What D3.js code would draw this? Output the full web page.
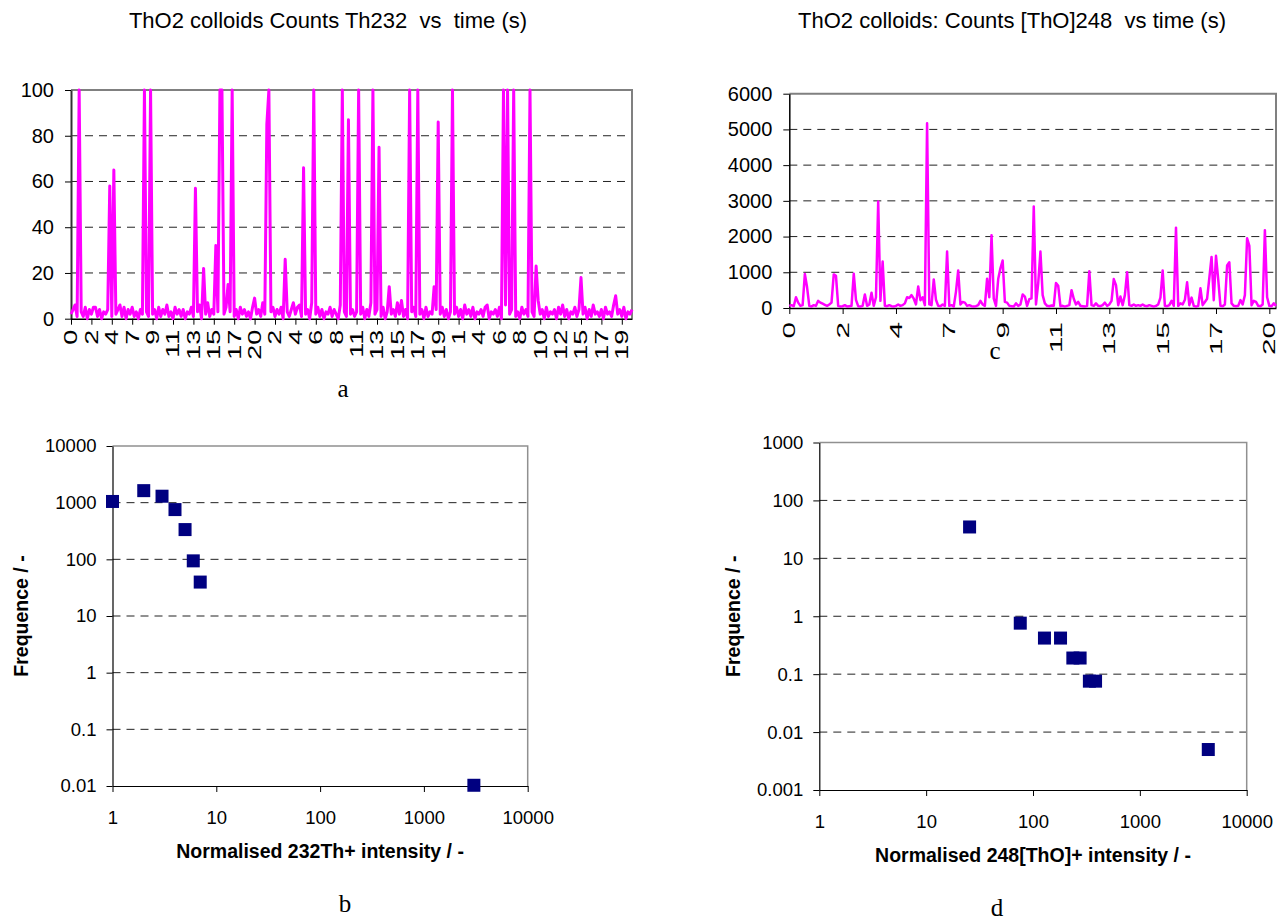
<!DOCTYPE html>
<html><head><meta charset="utf-8">
<script src="https://cdnjs.cloudflare.com/ajax/libs/d3/7.8.5/d3.min.js"></script>
<style>body{margin:0;background:#fff}</style>
</head><body><svg id="chart" width="1278" height="922"></svg>
<script>
// ---------- DATA ----------
const aTitle = "ThO2 colloids Counts Th232  vs  time (s)";
const cTitle = "ThO2 colloids: Counts [ThO]248  vs time (s)";
const aTickLabels = ["0","2","4","7","9","11","13","15","17","20","2","4","6","8","11","13","15","17","19","1","4","6","8","10","12","15","17","19"];
const aCounts = [
 2,4,6,1,100,3,1,5,0,4,2,5,5,1,4,0,3,2,4,58,
 1,65,2,4,6,1,5,0,4,2,5,1,3,0,4,2,100,3,1,100,
 2,4,0,5,1,4,2,6,1,3,0,5,2,4,1,4,0,3,2,5,
 1,57,3,6,0,22,2,7,1,4,2,32,3,100,100,2,5,15,3,100,
 1,4,0,5,2,4,1,3,0,5,9,2,4,1,7,2,85,100,3,5,
 1,4,2,5,0,26,3,1,4,7,2,5,6,1,66,2,4,0,7,100,
 2,5,1,4,0,3,2,5,1,4,2,0,6,100,3,1,87,2,4,1,
 3,100,2,5,0,4,1,7,100,2,4,75,1,5,0,3,14,2,4,1,
 7,2,8,1,4,0,100,3,5,1,100,2,4,0,5,1,3,2,14,4,
 86,2,5,1,4,0,3,100,2,5,1,4,0,6,2,4,1,5,0,3,
 2,4,1,5,6,0,3,2,4,1,5,0,100,6,100,2,4,100,1,3,
 0,5,2,4,1,100,3,1,23,8,2,4,0,5,1,3,2,4,0,5,
 2,6,1,4,0,3,2,5,1,4,18,2,5,0,4,1,6,2,3,1,
 4,0,5,2,3,1,6,10,2,4,1,5,0,3,2,4
];
const aYTicks = [0,20,40,60,80,100];

const cTickLabels = ["0","2","4","7","9","11","13","15","17","20"];
const cCounts = [
 60,80,50,300,150,60,80,950,580,60,40,80,60,200,150,120,90,60,100,150,
 940,900,60,40,50,80,40,50,60,960,230,50,40,60,380,60,100,430,60,300,
 2980,200,1300,60,50,80,50,40,60,100,60,80,130,300,280,360,260,100,600,220,
 300,80,5170,100,80,800,230,60,50,100,60,1580,60,80,40,460,1050,100,170,150,
 60,80,50,40,50,80,200,100,60,820,300,2040,260,60,810,1110,1330,170,150,60,
 50,40,130,60,100,380,320,60,250,270,2840,100,690,1580,360,130,60,50,70,60,
 700,620,50,60,40,60,80,500,260,100,170,60,50,40,60,1030,80,60,130,60,
 50,80,150,60,100,200,810,640,80,320,80,360,1000,80,60,100,60,80,60,100,
 60,50,80,60,40,60,100,290,1050,60,50,80,200,60,2250,60,130,100,230,720,
 80,290,60,40,60,550,80,170,260,840,1430,220,1460,800,60,50,100,1190,1280,130,
 60,50,60,220,100,360,1950,1740,80,200,170,60,50,100,2180,300,60,50,130,60
];
const cYTicks = [0,1000,2000,3000,4000,5000,6000];

const bIntensity = [1,2,3,4,5,6,7,3030];
const bFrequence = [1050,1630,1300,755,335,94,39.7,0.0103];
const bYTicks = [0.01,0.1,1,10,100,1000,10000];

const dIntensity = [25.5,76,128,181,236,276,337,385,4370];
const dFrequence = [34.8,0.76,0.42,0.42,0.19,0.19,0.0757,0.0757,0.005];
const dYTicks = [0.001,0.01,0.1,1,10,100,1000];

const logXTicks = [1,10,100,1000,10000];
const bXTitle = "Normalised 232Th+ intensity / -";
const dXTitle = "Normalised 248[ThO]+ intensity / -";
const yTitle = "Frequence / -";

// ---------- DRAW ----------
const SANS = '"Liberation Sans", Arial, sans-serif';
const SERIF = '"Liberation Serif", "Times New Roman", serif';
const svg = d3.select('#chart');

function tsPanel(o) {
  const x = d3.scaleLinear().domain([0, o.xEnd]).range([o.left, o.right]);
  const y = d3.scaleLinear().domain([0, o.yTicks[o.yTicks.length-1]]).range([o.bottom, o.top]);
  const g = svg.append('g');
  g.append('g').selectAll('line').data(o.yTicks.slice(1, -1)).join('line')
    .attr('x1', o.left).attr('x2', o.right)
    .attr('y1', d => y(d)).attr('y2', d => y(d))
    .attr('stroke', '#222').attr('stroke-width', 1).attr('stroke-dasharray', '8,6');
  g.append('path').attr('d', `M${o.left},${o.top}H${o.right}V${o.bottom}`)
    .attr('fill', 'none').attr('stroke', '#808080').attr('stroke-width', 2);
  const ya = g.append('g').attr('transform', `translate(${o.left},0)`)
    .call(d3.axisLeft(y).tickValues(o.yTicks).tickSize(6).tickSizeOuter(0).tickPadding(11).tickFormat(d3.format('d')));
  ya.select('.domain').attr('stroke', o.axisColor).attr('stroke-width', o.axisWidth);
  ya.selectAll('.tick line').attr('stroke', '#000');
  ya.selectAll('text').attr('font-size', 20).attr('font-family', SANS).attr('fill', '#000');
  const tv = o.labels.map((_, i) => i * o.perTick);
  const xa = g.append('g').attr('transform', `translate(0,${o.bottom})`)
    .call(d3.axisBottom(x).tickValues(tv).tickFormat((d, i) => o.labels[i]).tickSize(6).tickSizeOuter(0));
  xa.select('.domain').attr('stroke', '#000').attr('stroke-width', 1.5);
  xa.selectAll('.tick line').attr('stroke', '#000');
  xa.selectAll('text').attr('y', null).attr('x', null).attr('dy', '0.33em')
    .attr('text-anchor', 'end').attr('font-size', o.labelSize).attr('font-family', SANS).attr('fill', '#000')
    .attr('transform', `translate(0,${o.labelTop}) rotate(-90) scale(${o.stretch},1)`);
  g.append('path').datum(o.values)
    .attr('d', d3.line().x((d, i) => x(i)).y(d => y(d)))
    .attr('fill', 'none').attr('stroke', '#ff00ff').attr('stroke-width', o.lineWidth).attr('stroke-linejoin', 'round');
  g.append('text').attr('x', o.titleX).attr('y', 28).attr('text-anchor', 'middle')
    .style('white-space', 'pre')
    .attr('font-family', SANS).attr('font-size', 22).attr('fill', '#000').text(o.title);
}

function logPanel(o) {
  const x = d3.scaleLog().domain([logXTicks[0], logXTicks[logXTicks.length-1]]).range([o.left, o.right]);
  const y = d3.scaleLog().domain([o.yTicks[0], o.yTicks[o.yTicks.length-1]]).range([o.bottom, o.top]);
  const g = svg.append('g');
  g.append('g').selectAll('line').data(o.yTicks.slice(1, -1)).join('line')
    .attr('x1', o.left).attr('x2', o.right)
    .attr('y1', d => y(d)).attr('y2', d => y(d))
    .attr('stroke', '#222').attr('stroke-width', 1).attr('stroke-dasharray', '8,6');
  g.append('path').attr('d', `M${o.left},${o.top}H${o.right}V${o.bottom}`)
    .attr('fill', 'none').attr('stroke', '#909090').attr('stroke-width', 1.5);
  const ya = g.append('g').attr('transform', `translate(${o.left},0)`)
    .call(d3.axisLeft(y).tickValues(o.yTicks).tickSize(6).tickSizeOuter(0).tickPadding(10).tickFormat(d => String(d)));
  ya.select('.domain').attr('stroke', '#000').attr('stroke-width', 1.2);
  ya.selectAll('.tick line').attr('stroke', '#000');
  ya.selectAll('text').attr('font-size', 18.5).attr('font-family', SANS).attr('fill', '#000');
  const xa = g.append('g').attr('transform', `translate(0,${o.bottom})`)
    .call(d3.axisBottom(x).tickValues(logXTicks).tickSize(6).tickSizeOuter(0).tickPadding(19).tickFormat(d => String(d)));
  xa.select('.domain').attr('stroke', '#000').attr('stroke-width', 1.2);
  xa.selectAll('.tick line').attr('stroke', '#000');
  xa.selectAll('text').attr('font-size', 18.5).attr('font-family', SANS).attr('fill', '#000');
  g.append('g').selectAll('rect').data(o.xs).join('rect')
    .attr('x', (d, i) => x(d) - 6.5).attr('y', (d, i) => y(o.ys[i]) - 6.5)
    .attr('width', 13).attr('height', 13).attr('fill', '#000080');
  g.append('text').attr('x', (o.left + o.right) / 2).attr('y', o.bottom + 72).attr('text-anchor', 'middle')
    .attr('font-family', SANS).attr('font-weight', 'bold').attr('font-size', 19.5).attr('fill', '#000').text(o.xTitle);
  g.append('text').attr('transform', `translate(${o.yTitleX},${(o.top + o.bottom) / 2}) rotate(-90)`)
    .attr('text-anchor', 'middle').attr('font-family', SANS).attr('font-weight', 'bold')
    .attr('font-size', 19.5).attr('fill', '#000').text(yTitle);
}

tsPanel({left: 71, right: 632, top: 90, bottom: 318.7, xEnd: 275, perTick: 10,
  values: aCounts, labels: aTickLabels, yTicks: aYTicks, axisColor: '#333', axisWidth: 2,
  labelTop: 11, labelSize: 18, stretch: 1.5, lineWidth: 3, title: aTitle, titleX: 328});
tsPanel({left: 789.3, right: 1276, top: 93.7, bottom: 308, xEnd: 219, perTick: 24,
  values: cCounts, labels: cTickLabels, yTicks: cYTicks, axisColor: '#000', axisWidth: 1.5,
  labelTop: 14, labelSize: 17, stretch: 1.75, lineWidth: 2.5, title: cTitle, titleX: 1012});
logPanel({left: 112.5, right: 527.7, top: 446, bottom: 786, xs: bIntensity, ys: bFrequence,
  yTicks: bYTicks, xTitle: bXTitle, yTitleX: 28});
logPanel({left: 819.3, right: 1246.7, top: 442.5, bottom: 790, xs: dIntensity, ys: dFrequence,
  yTicks: dYTicks, xTitle: dXTitle, yTitleX: 740});

const panelLetters = [{t: 'a', x: 343, y: 397}, {t: 'c', x: 995, y: 359}, {t: 'b', x: 345, y: 912}, {t: 'd', x: 997, y: 916}];
svg.append('g').selectAll('text').data(panelLetters).join('text')
  .attr('x', d => d.x).attr('y', d => d.y).attr('text-anchor', 'middle')
  .attr('font-family', SERIF).attr('font-size', 25).attr('fill', '#000').text(d => d.t);
</script></body></html>
